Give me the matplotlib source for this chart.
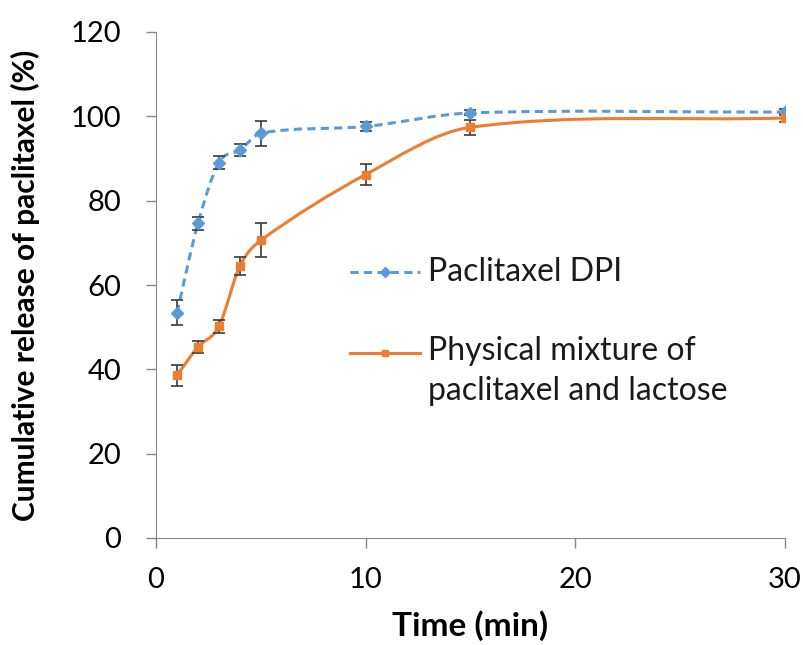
import numpy as np
import matplotlib.pyplot as plt
from matplotlib.path import Path
from matplotlib.patches import PathPatch
from matplotlib.lines import Line2D

plt.rcParams['font.family'] = ['Lato', 'DejaVu Sans']

time_min = [1, 2, 3, 4, 5, 10, 15, 30]
dpi_release = [53.4, 74.6, 89.0, 92.0, 96.0, 97.6, 100.8, 101.0]
dpi_err = [3.0, 1.5, 1.5, 1.5, 3.0, 1.0, 0.6, 0.8]
mix_release = [38.6, 45.3, 50.2, 64.5, 70.6, 86.2, 97.4, 99.6]
mix_err = [2.5, 1.5, 1.5, 2.2, 4.0, 2.5, 1.8, 1.0]

labels = ['Paclitaxel DPI', 'Physical mixture of\npaclitaxel and lactose']

blue = '#5B9BD5'
orange = '#ED7D31'
grey = '#868686'


def smooth_path(x, y):
    # smoothed line like Excel: cubic Bezier pieces through the points
    x = np.asarray(x, float)
    y = np.asarray(y, float)
    n = len(x)
    slope = np.zeros(n)
    for i in range(n):
        a = max(i - 1, 0)
        b = min(i + 1, n - 1)
        slope[i] = (y[b] - y[a]) / (x[b] - x[a])
    verts = [(x[0], y[0])]
    codes = [Path.MOVETO]
    for i in range(n - 1):
        dx = (x[i + 1] - x[i]) / 3.0
        verts += [(x[i] + dx, y[i] + slope[i] * dx),
                  (x[i + 1] - dx, y[i + 1] - slope[i + 1] * dx),
                  (x[i + 1], y[i + 1])]
        codes += [Path.CURVE4] * 3
    return Path(verts, codes)


fig = plt.figure(figsize=(8.04, 6.45), dpi=100)
ax = fig.add_axes([156 / 804, 1 - 538 / 645, 629 / 804, 506 / 645])

dash = (0, (2.7, 1.7))
ax.add_patch(PathPatch(smooth_path(time_min, dpi_release), fill=False,
                       edgecolor=blue, lw=2.2, linestyle=dash, zorder=2))
ax.add_patch(PathPatch(smooth_path(time_min, mix_release), fill=False,
                       edgecolor=orange, lw=2.2, zorder=2))

ax.errorbar(time_min, dpi_release, yerr=dpi_err, fmt='D', color=blue, ms=6,
            ecolor='#3a3a3a', elinewidth=1.2, capsize=4.5, capthick=1.2, zorder=3)
ax.errorbar(time_min, mix_release, yerr=mix_err, fmt='s', color=orange, ms=5.5,
            ecolor='#3a3a3a', elinewidth=1.2, capsize=4.5, capthick=1.2, zorder=3)

# legend drawn by hand inside the axes
tr = ax.transAxes
ax.add_line(Line2D([0.308, 0.420], [0.526, 0.526], transform=tr, color=blue, lw=2.2,
                   linestyle=dash))
ax.add_line(Line2D([0.364], [0.526], transform=tr, color=blue, marker='D', ms=5))
ax.add_line(Line2D([0.308, 0.420], [0.366, 0.366], transform=tr, color=orange, lw=2.2))
ax.add_line(Line2D([0.364], [0.366], transform=tr, color=orange, marker='s', ms=4.5))
ax.text(0.432, 0.526, labels[0], transform=tr, fontsize=23, va='center', ha='left',
        color='#1a1a1a')
ax.text(0.432, 0.400, labels[1], transform=tr, fontsize=23, va='top', ha='left',
        linespacing=1.42, color='#1a1a1a')

ax.set_xlim(0, 30)
ax.set_ylim(0, 120)
ax.set_xticks([0, 10, 20, 30])
ax.set_yticks(np.arange(0, 121, 20))
ax.tick_params(axis='x', direction='out', length=7, width=1, color=grey,
               labelsize=21, pad=14)
ax.tick_params(axis='y', direction='out', length=7, width=1, color=grey,
               labelsize=21, pad=18)
for s in ['top', 'right']:
    ax.spines[s].set_visible(False)
for s in ['bottom', 'left']:
    ax.spines[s].set_color(grey)

ax.set_xlabel('Time (min)', fontsize=24, fontweight='bold', labelpad=12)
ax.set_ylabel('Cumulative release of paclitaxel (%)', fontsize=21.5, fontweight='bold',
              labelpad=22)

fig.savefig('out.png', dpi=100)
